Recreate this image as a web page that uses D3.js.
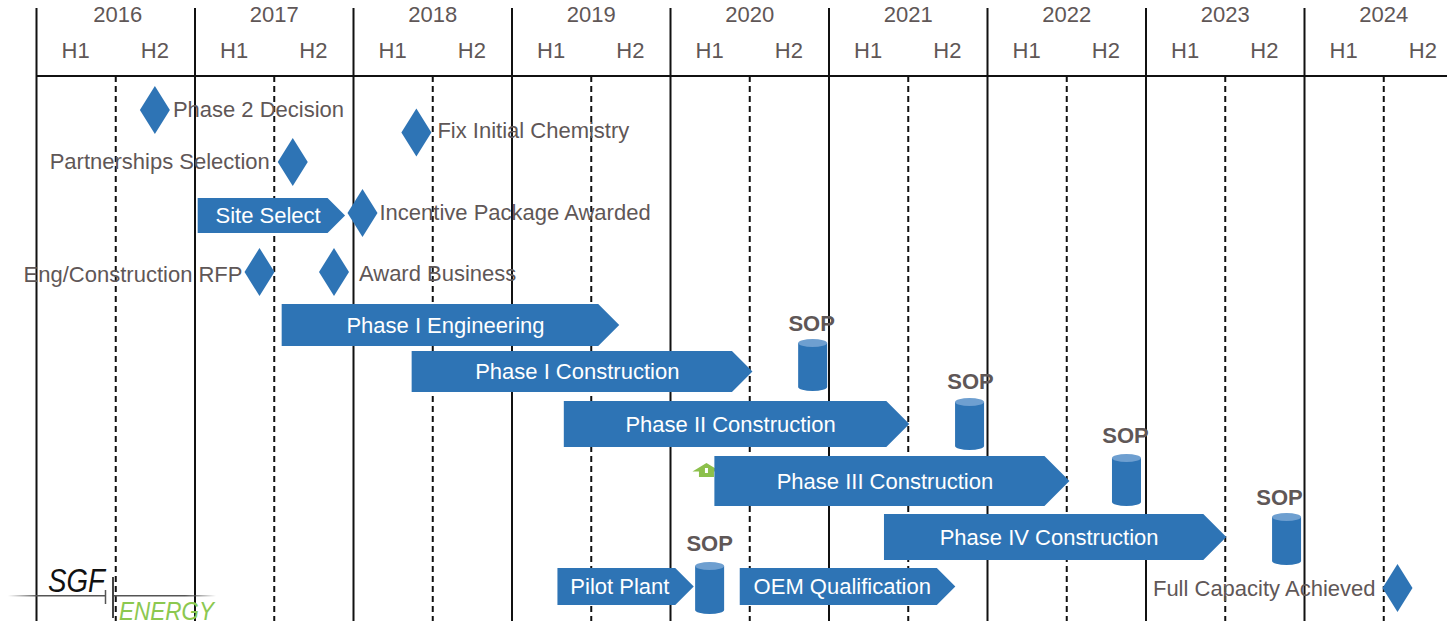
<!DOCTYPE html>
<html lang="en">
<head>
<meta charset="UTF-8">
<title>SGF Energy Timeline</title>
<script src="https://d3js.org/d3.v7.min.js"></script>
<style>
  html, body { margin: 0; padding: 0; background: #fff; overflow: hidden; }
  text { font-family: "Liberation Sans", Arial, sans-serif; }
</style>
</head>
<body>
<div id="chart"></div>
<script>
// years on the header, halves within them
const years = [2016, 2017, 2018, 2019, 2020, 2021, 2022, 2023, 2024];
const halves = ["H1", "H2"];

// blue arrows: start and end, in decimal years
const barNames = ["Site Select", "Phase I Engineering", "Phase I Construction", "Phase II Construction",
  "Phase III Construction", "Phase IV Construction", "Pilot Plant", "OEM Qualification"];
const barStart = [2017.02, 2017.55, 2018.37, 2019.33, 2020.28, 2021.35, 2019.29, 2020.44];
const barEnd = [2017.95, 2019.68, 2020.52, 2021.51, 2022.52, 2023.51, 2020.15, 2021.80];

// diamonds
const mileNames = ["Phase 2 Decision", "Fix Initial Chemistry", "Partnerships Selection", "Incentive Package Awarded",
  "Eng/Construction RFP", "Award Business", "Full Capacity Achieved"];
const mileDates = [2016.75, 2018.40, 2017.62, 2018.06, 2017.41, 2017.88, 2024.59];
const mileSide = ["right", "right", "left", "right", "left", "right", "left"];

// start of production cylinders
const sopDates = [2020.90, 2021.89, 2022.88, 2023.89, 2020.25];

const width = 1447, height = 621;

const x = d3.scaleLinear().domain([2016, 2024]).range([36, 1304]);

// vertical centre of each row in the picture
const barY = d3.scaleOrdinal().domain(barNames).range([215.5, 325, 371.5, 424, 481, 537, 586.5, 586.5]);
const barH = d3.scaleOrdinal().domain(barNames).range([35, 42, 41, 46, 50, 46, 37, 37]);
const barLabelDx = d3.scaleOrdinal().domain(barNames).range([5.5, 5.5, 5.5, 5.5, 5.5, 5.5, 3.5, 4]);
const mileY = d3.scaleOrdinal().domain(mileNames).range([110, 132.5, 162, 213, 272, 272, 588]);
const mileLabelY = d3.scaleOrdinal().domain(mileNames).range([109.5, 130.5, 161, 212, 274, 273, 588]);
const mileLabelDx = d3.scaleOrdinal().domain(mileNames).range([18, 21, 23, 17, 17, 25, 22]);
const sopY = d3.scaleOrdinal().domain(sopDates).range([365, 424, 480, 539, 588]);
const sopLabelDx = d3.scaleOrdinal().domain(sopDates).range([-1, 1, -1, -7, 0]);
const sopLabelY = d3.scaleOrdinal().domain(sopDates).range([-34, -35, -37.5, -34, -37]);

const svg = d3.select("#chart").append("svg")
  .attr("width", width)
  .attr("height", height)
  .style("display", "block");

const blue = "#2e74b5";
const grey = "#5f5757";
const fontSize = 22;

// dashed mid year lines
const midAxis = d3.axisBottom(x)
  .tickValues(years.map(d => d + 0.5))
  .tickSize(621 - 76)
  .tickFormat("");
svg.append("g").attr("transform", "translate(0,76)").call(midAxis)
  .call(g => g.select(".domain").remove())
  .call(g => g.selectAll("line").attr("stroke", "#111").attr("stroke-width", 2).attr("stroke-dasharray", "6,4"));

// solid year lines
const yearAxis = d3.axisBottom(x)
  .tickValues(years)
  .tickSize(621 - 8)
  .tickFormat("");
svg.append("g").attr("transform", "translate(0,8)").call(yearAxis)
  .call(g => g.select(".domain").remove())
  .call(g => g.selectAll("line").attr("stroke", "#111").attr("stroke-width", 2));

// header rule
svg.append("line")
  .attr("x1", x(2016)).attr("x2", width)
  .attr("y1", 76).attr("y2", 76)
  .attr("stroke", "#111").attr("stroke-width", 2);

// header text
svg.append("g").selectAll("text")
  .data(years)
  .enter().append("text")
  .attr("x", d => x(d + 0.5) + (d === 2016 ? 2.5 : 0.5))
  .attr("y", 22)
  .attr("text-anchor", "middle")
  .attr("font-size", fontSize)
  .attr("fill", grey)
  .text(d => d);

svg.append("g").selectAll("text")
  .data(years.flatMap(y => halves.map((h, i) => ({ pos: y + 0.25 + i * 0.5, h }))))
  .enter().append("text")
  .attr("x", d => x(d.pos))
  .attr("y", 58)
  .attr("text-anchor", "middle")
  .attr("font-size", fontSize)
  .attr("fill", grey)
  .text(d => d.h);

// little green house next to Phase III
const house = svg.append("g").attr("transform", `translate(${x(2020.23)},470)`);
house.append("path")
  .attr("d", "M-14,1.5 L0,-7 L14,1.5 L7.5,1.5 L7.5,7 L-7.5,7 L-7.5,1.5 Z")
  .attr("fill", "#8cc04b");
house.append("rect")
  .attr("x", -1.5).attr("y", -2).attr("width", 3).attr("height", 5)
  .attr("fill", "#fff");

// arrows
const arrowPath = i => {
  const name = barNames[i], x0 = x(barStart[i]), x1 = x(barEnd[i]);
  const h = barH(name), top = barY(name) - h / 2, tip = h / 2;
  return d3.line()([[x0, top], [x1 - tip, top], [x1, top + h / 2], [x1 - tip, top + h], [x0, top + h]]) + "Z";
};

const bars = svg.append("g").selectAll("g")
  .data(barNames)
  .enter().append("g");

bars.append("path")
  .attr("d", (d, i) => arrowPath(i))
  .attr("fill", blue);

bars.append("text")
  .attr("x", (d, i) => (x(barStart[i]) + x(barEnd[i]) - barH(d) / 2) / 2 + barLabelDx(d))
  .attr("y", d => barY(d) + 7.5)
  .attr("text-anchor", "middle")
  .attr("font-size", fontSize)
  .attr("fill", "#fff")
  .text(d => d);

// diamonds with labels
const miles = svg.append("g").selectAll("g")
  .data(mileNames)
  .enter().append("g");

miles.append("path")
  .attr("d", (d, i) => {
    const cx = x(mileDates[i]), cy = mileY(d);
    return d3.line()([[cx, cy - 24], [cx + 15, cy], [cx, cy + 24], [cx - 15, cy]]) + "Z";
  })
  .attr("fill", blue);

miles.append("text")
  .attr("x", (d, i) => x(mileDates[i]) + (mileSide[i] === "right" ? 1 : -1) * mileLabelDx(d))
  .attr("y", d => mileLabelY(d) + 7.5)
  .attr("text-anchor", (d, i) => mileSide[i] === "right" ? "start" : "end")
  .attr("font-size", fontSize)
  .attr("fill", grey)
  .text(d => d);

// SOP cylinders
const sops = svg.append("g").selectAll("g")
  .data(sopDates)
  .enter().append("g")
  .attr("transform", d => `translate(${x(d)},${sopY(d)})`);

sops.append("path")
  .attr("d", "M-14.5,-22 V22 A14.5,4 0 0 0 14.5,22 V-22 Z")
  .attr("fill", blue);
sops.append("ellipse")
  .attr("cy", -22)
  .attr("rx", 14.5).attr("ry", 4)
  .attr("fill", "#6e9fd0");
sops.append("text")
  .attr("x", d => sopLabelDx(d))
  .attr("y", d => sopLabelY(d))
  .attr("text-anchor", "middle")
  .attr("font-size", fontSize)
  .attr("font-weight", "bold")
  .attr("fill", grey)
  .text("SOP");

// logo
const fade = svg.append("defs").append("linearGradient").attr("id", "logoFade");
fade.append("stop").attr("offset", 0).attr("stop-color", "#555").attr("stop-opacity", 0);
fade.append("stop").attr("offset", 0.15).attr("stop-color", "#555");
fade.append("stop").attr("offset", 0.85).attr("stop-color", "#555");
fade.append("stop").attr("offset", 1).attr("stop-color", "#555").attr("stop-opacity", 0);

const logo = svg.append("g");
logo.append("rect")
  .attr("x", 8).attr("y", 595).attr("width", 208).attr("height", 1.5)
  .attr("fill", "url(#logoFade)");
logo.append("rect")
  .attr("x", 106).attr("y", 590).attr("width", 6).attr("height", 12)
  .attr("fill", "#fff");
logo.append("line")
  .attr("x1", 105.5).attr("x2", 105.5).attr("y1", 590).attr("y2", 604)
  .attr("stroke", "#555").attr("stroke-width", 1.5);
logo.append("line")
  .attr("x1", 113).attr("x2", 113).attr("y1", 577).attr("y2", 618)
  .attr("stroke", "#444").attr("stroke-width", 2);
logo.append("text")
  .attr("x", 48).attr("y", 592)
  .attr("font-family", "Lato, sans-serif").attr("font-style", "italic")
  .attr("font-size", 33)
  .attr("textLength", 57).attr("lengthAdjust", "spacingAndGlyphs")
  .attr("fill", "#111")
  .text("SGF");
logo.append("text")
  .attr("x", 119).attr("y", 620)
  .attr("font-family", "Lato, sans-serif").attr("font-style", "italic")
  .attr("font-size", 25)
  .attr("textLength", 95).attr("lengthAdjust", "spacingAndGlyphs")
  .attr("fill", "#8cc850")
  .text("ENERGY");
</script>
</body>
</html>
